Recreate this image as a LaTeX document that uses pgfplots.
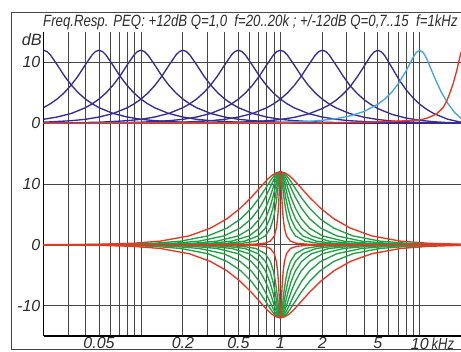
\documentclass[border=0pt]{standalone}
\usepackage{fontspec}
\setmainfont{Liberation Sans}
\newfontfamily\titlefont[FakeStretch=0.81]{Liberation Sans}
\usepackage{pgfplots}
\usepackage{pgfplotstable}
\pgfplotsset{compat=1.18}
\definecolor{cdb}{RGB}{55,45,145}
\definecolor{clb}{RGB}{70,165,225}
\definecolor{cred}{RGB}{230,55,35}
\definecolor{cgr}{RGB}{35,160,70}
\definecolor{cgrid}{RGB}{70,70,70}
\definecolor{ctext}{RGB}{45,45,45}

% bottom family: f0 = 1 kHz, +/-12 dB, x = log10(f/kHz)
\pgfplotstableread{
x gp gn
-2 0 0
-1.757 0.01 -0.01
-1.332 0.07 -0.07
-1.0613 0.25 -0.25
-0.8621 0.60 -0.60
-0.6539 1.47 -1.47
-0.5014 2.74 -2.74
-0.3828 4.29 -4.29
-0.2885 6.00 -6.00
-0.2090 7.80 -7.80
-0.1520 9.26 -9.26
-0.0924 10.77 -10.77
-0.0618 11.40 -11.40
-0.0310 11.84 -11.84
0 12.00 -12.00
0.0310 11.84 -11.84
0.0618 11.40 -11.40
0.0924 10.77 -10.77
0.1520 9.26 -9.26
0.2090 7.80 -7.80
0.2885 6.00 -6.00
0.3828 4.29 -4.29
0.5014 2.74 -2.74
0.6539 1.47 -1.47
0.8621 0.60 -0.60
1.0613 0.25 -0.25
1.332 0.07 -0.07
1.757 0.01 -0.01
2 0 0
}\qa
\pgfplotstableread{
x gp gn
-2 0 0
-1.6023 0.01 -0.01
-1.1780 0.07 -0.07
-0.9097 0.25 -0.25
-0.7154 0.60 -0.60
-0.5189 1.47 -1.47
-0.3828 2.74 -2.74
-0.2835 4.29 -4.29
-0.2090 6.00 -6.00
-0.1491 7.80 -7.80
-0.1075 9.26 -9.26
-0.0649 10.77 -10.77
-0.0434 11.40 -11.40
-0.0217 11.84 -11.84
0 12.00 -12.00
0.0217 11.84 -11.84
0.0434 11.40 -11.40
0.0649 10.77 -10.77
0.1075 9.26 -9.26
0.1491 7.80 -7.80
0.2090 6.00 -6.00
0.2835 4.29 -4.29
0.3828 2.74 -2.74
0.5189 1.47 -1.47
0.7154 0.60 -0.60
0.9097 0.25 -0.25
1.1780 0.07 -0.07
1.6023 0.01 -0.01
2 0 0
}\qb
\pgfplotstableread{
x gp gn
-2 0 0
-1.4566 0.01 -0.01
-1.0337 0.07 -0.07
-0.7697 0.25 -0.25
-0.5835 0.60 -0.60
-0.4043 1.47 -1.47
-0.2885 2.74 -2.74
-0.2090 4.29 -4.29
-0.1520 6.00 -6.00
-0.1075 7.80 -7.80
-0.0772 9.26 -9.26
-0.0464 10.77 -10.77
-0.0310 11.40 -11.40
-0.0155 11.84 -11.84
0 12.00 -12.00
0.0155 11.84 -11.84
0.0310 11.40 -11.40
0.0464 10.77 -10.77
0.0772 9.26 -9.26
0.1075 7.80 -7.80
0.1520 6.00 -6.00
0.2090 4.29 -4.29
0.2885 2.74 -2.74
0.4043 1.47 -1.47
0.5835 0.60 -0.60
0.7697 0.25 -0.25
1.0337 0.07 -0.07
1.4566 0.01 -0.01
2 0 0
}\qc
\pgfplotstableread{
x gp gn
-2 0 0
-1.3021 0.01 -0.01
-0.8826 0.07 -0.07
-0.6270 0.25 -0.25
-0.4550 0.60 -0.60
-0.3010 1.47 -1.47
-0.2090 2.74 -2.74
-0.1491 4.29 -4.29
-0.1075 6.00 -6.00
-0.0756 7.80 -7.80
-0.0542 9.26 -9.26
-0.0325 10.77 -10.77
-0.0217 11.40 -11.40
-0.0109 11.84 -11.84
0 12.00 -12.00
0.0109 11.84 -11.84
0.0217 11.40 -11.40
0.0325 10.77 -10.77
0.0542 9.26 -9.26
0.0756 7.80 -7.80
0.1075 6.00 -6.00
0.1491 4.29 -4.29
0.2090 2.74 -2.74
0.3010 1.47 -1.47
0.4550 0.60 -0.60
0.6270 0.25 -0.25
0.8826 0.07 -0.07
1.3021 0.01 -0.01
2 0 0
}\qd
\pgfplotstableread{
x gp gn
-2 0 0
-1.1570 0.01 -0.01
-0.7433 0.07 -0.07
-0.5014 0.25 -0.25
-0.3490 0.60 -0.60
-0.2228 1.47 -1.47
-0.1520 2.74 -2.74
-0.1075 4.29 -4.29
-0.0772 6.00 -6.00
-0.0542 7.80 -7.80
-0.0387 9.26 -9.26
-0.0233 10.77 -10.77
-0.0155 11.40 -11.40
-0.0078 11.84 -11.84
0 12.00 -12.00
0.0078 11.84 -11.84
0.0155 11.40 -11.40
0.0233 10.77 -10.77
0.0387 9.26 -9.26
0.0542 7.80 -7.80
0.0772 6.00 -6.00
0.1075 4.29 -4.29
0.1520 2.74 -2.74
0.2228 1.47 -1.47
0.3490 0.60 -0.60
0.5014 0.25 -0.25
0.7433 0.07 -0.07
1.1570 0.01 -0.01
2 0 0
}\qe
\pgfplotstableread{
x gp gn
-2 0 0
-1.0043 0.01 -0.01
-0.6021 0.07 -0.07
-0.3828 0.25 -0.25
-0.2563 0.60 -0.60
-0.1593 1.47 -1.47
-0.1075 2.74 -2.74
-0.0756 4.29 -4.29
-0.0542 6.00 -6.00
-0.0380 7.80 -7.80
-0.0271 9.26 -9.26
-0.0163 10.77 -10.77
-0.0109 11.40 -11.40
-0.0054 11.84 -11.84
0 12.00 -12.00
0.0054 11.84 -11.84
0.0109 11.40 -11.40
0.0163 10.77 -10.77
0.0271 9.26 -9.26
0.0380 7.80 -7.80
0.0542 6.00 -6.00
0.0756 4.29 -4.29
0.1075 2.74 -2.74
0.1593 1.47 -1.47
0.2563 0.60 -0.60
0.3828 0.25 -0.25
0.6021 0.07 -0.07
1.0043 0.01 -0.01
2 0 0
}\qf
\pgfplotstableread{
x gp gn
-2 0 0
-0.8334 0.01 -0.01
-0.4550 0.07 -0.07
-0.2715 0.25 -0.25
-0.1761 0.60 -0.60
-0.1075 1.47 -1.47
-0.0721 2.74 -2.74
-0.0506 4.29 -4.29
-0.0362 6.00 -6.00
-0.0253 7.80 -7.80
-0.0181 9.26 -9.26
-0.0109 10.77 -10.77
-0.0072 11.40 -11.40
-0.0036 11.84 -11.84
0 12.00 -12.00
0.0036 11.84 -11.84
0.0072 11.40 -11.40
0.0109 10.77 -10.77
0.0181 9.26 -9.26
0.0253 7.80 -7.80
0.0362 6.00 -6.00
0.0506 4.29 -4.29
0.0721 2.74 -2.74
0.1075 1.47 -1.47
0.1761 0.60 -0.60
0.2715 0.25 -0.25
0.4550 0.07 -0.07
0.8334 0.01 -0.01
2 0 0
}\qg
\pgfplotstableread{
x gp gn
-2 0 0
-0.8334 0.00 0.00
-0.4771 0.01 -0.01
-0.2090 0.07 -0.07
-0.1145 0.25 -0.25
-0.0721 0.60 -0.60
-0.0434 1.47 -1.47
-0.0290 2.74 -2.74
-0.0203 4.29 -4.29
-0.0145 6.00 -6.00
-0.0101 7.80 -7.80
-0.0072 9.26 -9.26
-0.0043 10.77 -10.77
-0.0029 11.40 -11.40
-0.0015 11.84 -11.84
0 12.00 -12.00
0.0015 11.84 -11.84
0.0029 11.40 -11.40
0.0043 10.77 -10.77
0.0072 9.26 -9.26
0.0101 7.80 -7.80
0.0145 6.00 -6.00
0.0203 4.29 -4.29
0.0290 2.74 -2.74
0.0434 1.47 -1.47
0.0721 0.60 -0.60
0.1145 0.25 -0.25
0.2090 0.07 -0.07
0.4771 0.01 -0.01
0.8334 0.00 0.00
2 0 0
}\qh

\begin{document}
\begin{tikzpicture}
\path[use as bounding box] (0,0) rectangle (461bp,352bp);
\clip (0,0) rectangle (461bp,352bp);
\draw[cgrid, line width=1bp] (11bp,2bp) rectangle (490bp,339bp);
\node[anchor=base west, inner sep=0pt, text=ctext,
  font={\titlefont\itshape\fontsize{16.3bp}{18bp}\selectfont}]
  at (43bp,325.3bp) {Freq.Resp. PEQ: +12dB Q=1,0\ \ f=20..20k ; +/-12dB Q=0,7..15\ \ f=1kHz};
\node[anchor=east, inner sep=0pt, text=ctext,
  font={\itshape\fontsize{16.3bp}{18bp}\selectfont}] at (42bp,312bp) {dB};
\begin{axis}[
  at={(43.5bp,16bp)}, anchor=south west,
  scale only axis, width=418.3bp, height=304bp,
  xmin=-1.699, xmax=1.301, ymin=-15, ymax=35,
  axis x line*=bottom, axis y line*=left,
  axis line style={line width=1.2bp, black},
  xtick={-1.30103,-0.69897,-0.30103,0,0.30103,0.69897,1},
  xticklabels={0.05,0.2,0.5,1,2,5,10\rlap{\kern3bp{\titlefont kHz}}},
  minor xtick={-1.52288,-1.39794,-1.22185,-1.15490,-1.09691,-1.04576,-1,-0.52288,-0.39794,-0.22185,-0.15490,-0.09691,-0.04576,0.47712,0.60206,0.77815,0.84510,0.90309,0.95424},
  ytick={-10,0,10,20,30},
  yticklabels={-10,0,10,0,10},
  xmajorgrids, xminorgrids, ymajorgrids,
  major grid style={cgrid, line width=0.9bp},
  minor grid style={cgrid, line width=0.9bp},
  major tick length=0pt, minor tick length=0pt,
  tick label style={font={\itshape\fontsize{16bp}{18bp}\selectfont}, text=ctext},
  xticklabel style={anchor=north, inner sep=0pt, yshift=-1.5bp},
  yticklabel style={anchor=east, inner sep=0pt, xshift=-3bp},
  every axis plot/.append style={line width=1.35bp, line join=round, no markers},
]
% bottom family (greens then reds)
\addplot[cgr] table[x=x,y=gp]{\qb};
\addplot[cgr] table[x=x,y=gn]{\qb};
\addplot[cgr] table[x=x,y=gp]{\qc};
\addplot[cgr] table[x=x,y=gn]{\qc};
\addplot[cgr] table[x=x,y=gp]{\qd};
\addplot[cgr] table[x=x,y=gn]{\qd};
\addplot[cgr] table[x=x,y=gp]{\qe};
\addplot[cgr] table[x=x,y=gn]{\qe};
\addplot[cgr] table[x=x,y=gp]{\qf};
\addplot[cgr] table[x=x,y=gn]{\qf};
\addplot[cgr] table[x=x,y=gp]{\qg};
\addplot[cgr] table[x=x,y=gn]{\qg};
\addplot[cred] table[x=x,y=gp]{\qh};
\addplot[cred] table[x=x,y=gn]{\qh};
\addplot[cred] table[x=x,y=gp]{\qa};
\addplot[cred] table[x=x,y=gn]{\qa};
% top family: +12 dB, Q=1, shown 20 dB higher
\addplot[cdb] coordinates {(-1.724,31.79) (-1.699,32.00) (-1.674,31.79) (-1.649,31.22) (-1.599,29.54) (-1.549,27.77) (-1.499,26.25) (-1.449,24.99) (-1.399,23.98) (-1.349,23.18) (-1.299,22.53) (-1.199,21.60) (-1.099,21.02) (-0.999,20.64) (-0.899,20.41) (-0.699,20.16) (-0.499,20.07) (-0.199,20.02) (0.301,20.00) (1.4,20.00)};
\addplot[cdb] coordinates {(-1.801,21.60) (-1.701,22.53) (-1.651,23.18) (-1.601,23.98) (-1.551,24.99) (-1.501,26.25) (-1.451,27.77) (-1.401,29.54) (-1.351,31.22) (-1.326,31.79) (-1.301,32.00) (-1.276,31.79) (-1.251,31.22) (-1.201,29.54) (-1.151,27.77) (-1.101,26.25) (-1.051,24.99) (-1.001,23.98) (-0.951,23.18) (-0.901,22.53) (-0.801,21.60) (-0.701,21.02) (-0.601,20.64) (-0.501,20.41) (-0.301,20.16) (-0.101,20.07) (0.199,20.02) (0.699,20.00) (1.4,20.00)};
\addplot[cdb] coordinates {(-1.8,20.41) (-1.7,20.64) (-1.6,21.02) (-1.5,21.60) (-1.4,22.53) (-1.35,23.18) (-1.3,23.98) (-1.25,24.99) (-1.2,26.25) (-1.15,27.77) (-1.1,29.54) (-1.05,31.22) (-1.025,31.79) (-1,32.00) (-0.975,31.79) (-0.95,31.22) (-0.9,29.54) (-0.85,27.77) (-0.8,26.25) (-0.75,24.99) (-0.7,23.98) (-0.65,23.18) (-0.6,22.53) (-0.5,21.60) (-0.4,21.02) (-0.3,20.64) (-0.2,20.41) (0,20.16) (0.2,20.07) (0.5,20.02) (1,20.00) (1.4,20.00)};
\addplot[cdb] coordinates {(-1.899,20.07) (-1.699,20.16) (-1.499,20.41) (-1.399,20.64) (-1.299,21.02) (-1.199,21.60) (-1.099,22.53) (-1.049,23.18) (-0.999,23.98) (-0.949,24.99) (-0.899,26.25) (-0.849,27.77) (-0.799,29.54) (-0.749,31.22) (-0.724,31.79) (-0.699,32.00) (-0.674,31.79) (-0.649,31.22) (-0.599,29.54) (-0.549,27.77) (-0.499,26.25) (-0.449,24.99) (-0.399,23.98) (-0.349,23.18) (-0.299,22.53) (-0.199,21.60) (-0.099,21.02) (0.001,20.64) (0.101,20.41) (0.301,20.16) (0.501,20.07) (0.801,20.02) (1.4,20.00)};
\addplot[cdb] coordinates {(-1.801,20.02) (-1.501,20.07) (-1.301,20.16) (-1.101,20.41) (-1.001,20.64) (-0.901,21.02) (-0.801,21.60) (-0.701,22.53) (-0.651,23.18) (-0.601,23.98) (-0.551,24.99) (-0.501,26.25) (-0.451,27.77) (-0.401,29.54) (-0.351,31.22) (-0.326,31.79) (-0.301,32.00) (-0.276,31.79) (-0.251,31.22) (-0.201,29.54) (-0.151,27.77) (-0.101,26.25) (-0.051,24.99) (-0.001,23.98) (0.049,23.18) (0.099,22.53) (0.199,21.60) (0.299,21.02) (0.399,20.64) (0.499,20.40) (0.699,20.15) (0.899,20.05) (1.199,20.01) (1.4,20.00)};
\addplot[cdb] coordinates {(-2,20.00) (-1.5,20.02) (-1.2,20.07) (-1,20.16) (-0.8,20.41) (-0.7,20.64) (-0.6,21.02) (-0.5,21.60) (-0.4,22.53) (-0.35,23.18) (-0.3,23.98) (-0.25,24.99) (-0.2,26.25) (-0.15,27.77) (-0.1,29.54) (-0.05,31.22) (-0.025,31.79) (0,32.00) (0.025,31.79) (0.05,31.22) (0.1,29.54) (0.15,27.77) (0.2,26.24) (0.25,24.98) (0.3,23.97) (0.35,23.16) (0.4,22.51) (0.5,21.56) (0.6,20.98) (0.7,20.60) (0.8,20.36) (1,20.12) (1.2,20.03) (1.4,20.00)};
\addplot[cdb] coordinates {(-1.8,20.00) (-1.199,20.02) (-0.899,20.07) (-0.699,20.16) (-0.499,20.41) (-0.399,20.64) (-0.299,21.02) (-0.199,21.60) (-0.099,22.53) (-0.049,23.18) (0.001,23.98) (0.051,24.99) (0.101,26.25) (0.151,27.77) (0.201,29.54) (0.251,31.22) (0.276,31.79) (0.301,32.00) (0.326,31.79) (0.351,31.20) (0.401,29.48) (0.451,27.70) (0.501,26.14) (0.551,24.88) (0.601,23.85) (0.651,23.05) (0.701,22.38) (0.801,21.44) (0.901,20.85) (1.001,20.47) (1.101,20.24) (1.201,20.10) (1.301,20.02) (1.4,20.00)};
\addplot[cdb] coordinates {(-1.8,20.00) (-1.301,20.00) (-0.801,20.015) (-0.501,20.06) (-0.301,20.155) (-0.101,20.39) (-0.001,20.61) (0.099,20.96) (0.199,21.50) (0.299,22.40) (0.349,23.00) (0.399,23.77) (0.449,24.77) (0.499,25.98) (0.549,27.55) (0.599,29.32) (0.649,31.13) (0.674,31.75) (0.699,32.00) (0.724,31.74) (0.749,31.10) (0.799,29.18) (0.849,27.23) (0.899,25.57) (0.949,24.22) (0.999,23.13) (1.049,22.28) (1.099,21.60) (1.199,20.66) (1.299,20.14) (1.4,20.00)};
\addplot[clb] coordinates {(-1.8,20.00) (-0.5,20.01) (-0.2,20.05) (0,20.12) (0.2,20.30) (0.3,20.47) (0.4,20.75) (0.5,21.20) (0.6,21.93) (0.7,23.13) (0.75,24.00) (0.8,25.14) (0.85,26.63) (0.9,28.55) (0.95,30.75) (0.975,31.64) (1,32.00) (1.025,31.61) (1.05,30.58) (1.1,27.82) (1.15,25.28) (1.2,23.27) (1.25,21.75) (1.301,20.68)};
\addplot[cred] coordinates {(-1.8,20.00) (0,20.01) (0.3,20.05) (0.6,20.15) (0.8,20.30) (0.9,20.40) (1.0,20.55) (1.048,20.80) (1.12,21.50) (1.168,22.60) (1.192,23.60) (1.216,25.00) (1.24,26.60) (1.264,28.60) (1.288,31.00) (1.301,32.00)};
\end{axis}
\end{tikzpicture}
\end{document}
